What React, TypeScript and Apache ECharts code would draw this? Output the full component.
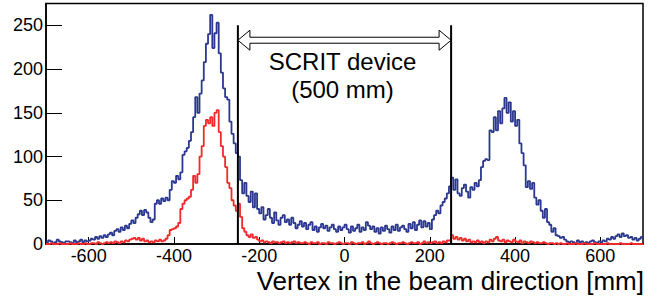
import React, { useEffect, useRef } from "react";
import * as echarts from "echarts";

// ---- data ----
const X_MIN = -700;
const X_MAX = 700;
const BIN_WIDTH = 5;
const Y_MIN = 0;
const Y_MAX = 275;
const xTickValues = [-600, -400, -200, 0, 200, 400, 600];
const yTickValues = [0, 50, 100, 150, 200, 250];

// counts per 5 mm bin, from -700 mm to +700 mm (280 bins)
const blueCounts = [
  2, 4, 3, 1, 2, 5, 3, 2, 1, 3,
  3, 2, 1, 4, 2, 3, 5, 2, 4, 3,
  4, 6, 5, 8, 6, 9, 7, 10, 8, 11,
  13, 10, 15, 17, 14, 19, 16, 21, 18, 23,
  27, 24, 30, 34, 38, 33, 39, 36, 30, 25,
  28, 46, 50, 46, 52, 49, 53, 50, 62, 72,
  70, 78, 74, 82, 102, 106, 110, 118, 128, 145,
  168, 150, 172, 187, 208, 229, 240, 262, 224, 241,
  253, 218, 196, 178, 168, 165, 140, 126, 115, 104,
  100, 73, 58, 70, 55, 48, 60, 42, 58, 40,
  35, 42, 28, 33, 40, 30, 24, 36, 27, 22,
  30, 33, 25, 28, 22, 30, 24, 18, 22, 26,
  20, 24, 17, 22, 25, 16, 20, 14, 19, 23,
  18, 21, 15, 19, 22, 17, 14, 20, 16, 19,
  22, 17, 13, 20, 15, 18, 22, 14, 19, 16,
  25, 21, 17, 20, 14, 18, 12, 19, 15, 21,
  17, 13, 20, 16, 22, 15, 19, 21, 17, 14,
  23, 18, 25, 16, 22, 27, 19, 26, 20, 24,
  17, 28, 33, 38, 35, 44, 48, 52, 58, 66,
  76, 62, 74, 58, 55, 64, 68, 60, 53, 65,
  62, 70, 66, 73, 88, 95, 97, 96, 130, 128,
  145, 130, 152, 138, 155, 167, 150, 162, 140, 152,
  135, 142, 115, 104, 90, 65, 72, 63, 70, 53,
  45, 50, 38, 30, 40, 25, 22, 14, 18, 10,
  9, 7, 8, 5, 3, 2, 3, 2, 1, 4,
  2, 3, 1, 2, 1, 3, 4, 2, 1, 3,
  2, 4, 3, 6, 5, 8, 6, 9, 11, 8,
  12, 9, 10, 7, 8, 5, 7, 4, 6, 8,
];

const redCounts = [
  0, 0, 1, 0, 0, 0, 1, 0, 0, 0,
  0, 1, 0, 0, 0, 1, 0, 0, 1, 0,
  0, 1, 1, 0, 2, 1, 0, 1, 2, 1,
  2, 1, 3, 2, 1, 3, 2, 4, 3, 5,
  6, 7, 5, 7, 4, 6, 3, 4, 2, 3,
  2, 4, 3, 5, 3, 4, 6, 10, 16, 17,
  18, 20, 24, 40, 46, 50, 52, 54, 62, 78,
  70, 80, 100, 112, 135, 142, 138, 145, 135, 150,
  153, 128, 112, 100, 88, 70, 64, 50, 44, 38,
  46, 31, 18, 14, 10, 8, 11, 7, 8, 5,
  3, 4, 2, 3, 2, 1, 3, 2, 2, 1,
  2, 3, 1, 2, 1, 2, 3, 1, 2, 1,
  1, 2, 1, 0, 2, 1, 1, 2, 0, 1,
  1, 0, 2, 1, 1, 0, 1, 2, 1, 0,
  1, 1, 0, 2, 1, 0, 1, 1, 2, 0,
  1, 3, 1, 0, 1, 2, 1, 0, 1, 1,
  0, 1, 2, 1, 0, 1, 1, 2, 1, 0,
  1, 2, 1, 1, 2, 0, 1, 3, 1, 2,
  1, 2, 3, 1, 2, 1, 3, 2, 4, 4,
  10, 6, 8, 5, 7, 4, 6, 3, 5, 2,
  3, 2, 4, 2, 3, 1, 3, 2, 5, 3,
  6, 8, 4, 3, 5, 2, 4, 3, 2, 5,
  3, 2, 4, 1, 3, 2, 1, 3, 2, 1,
  2, 1, 1, 2, 1, 0, 1, 1, 0, 1,
  0, 1, 0, 0, 1, 0, 0, 0, 1, 0,
  0, 0, 1, 0, 0, 0, 0, 1, 0, 0,
  0, 0, 0, 1, 0, 0, 0, 0, 0, 1,
  0, 0, 0, 0, 1, 0, 0, 0, 0, 0,
];

const deviceEdges = [-250, 250];
const deviceLineTop = 250;
const arrowLevel = 233;
const deviceLabel = "SCRIT device\n(500 mm)";
const xAxisTitle = "Vertex in the beam direction [mm]";

// ---- styles ----
const FONT = "'Liberation Sans', Arial, Helvetica, sans-serif";
const BLUE = "#2b388f";
const RED = "#f02a2a";

function toSteps(counts: number[]): number[][] {
  const pts = counts.map((v, i) => [X_MIN + BIN_WIDTH * i, v]);
  pts.push([X_MAX, counts[counts.length - 1]]);
  return pts;
}

export default function App() {
  const ref = useRef<HTMLDivElement>(null);

  useEffect(() => {
    if (!ref.current) return;
    const chart = echarts.init(ref.current, undefined, { renderer: "svg" });

    const histSeries = (name: string, counts: number[], color: string, z: number) => ({
      name,
      type: "line",
      step: "end",
      data: toSteps(counts),
      showSymbol: false,
      symbol: "none",
      lineStyle: { color, width: 1.8 },
      z,
      silent: true,
    });

    const edgeSeries = deviceEdges.map((x) => ({
      type: "line",
      data: [
        [x, 0],
        [x, deviceLineTop],
      ],
      showSymbol: false,
      symbol: "none",
      lineStyle: { color: "#000", width: 2 },
      z: 10,
      silent: true,
    }));

    chart.setOption({
      animation: false,
      grid: {
        left: 46,
        right: 21,
        top: 3.5,
        bottom: 53,
        show: true,
        borderColor: "#000",
        borderWidth: 1.5,
        backgroundColor: "transparent",
      },
      xAxis: {
        type: "value",
        min: X_MIN,
        max: X_MAX,
        axisLine: { show: true, onZero: false, lineStyle: { color: "#000", width: 1.5 } },
        axisTick: {
          show: true,
          inside: true,
          length: 7,
          customValues: xTickValues,
          lineStyle: { color: "#000", width: 1 },
        },
        axisLabel: {
          show: true,
          customValues: xTickValues,
          fontSize: 18,
          lineHeight: 18,
          fontFamily: FONT,
          color: "#000",
          margin: 3,
        },
        splitLine: { show: false },
      },
      yAxis: {
        type: "value",
        min: Y_MIN,
        max: Y_MAX,
        axisLine: { show: true, onZero: false, lineStyle: { color: "#000", width: 1.5 } },
        axisTick: {
          show: true,
          inside: true,
          length: 16,
          customValues: yTickValues,
          lineStyle: { color: "#000", width: 1 },
        },
        axisLabel: {
          show: true,
          customValues: yTickValues,
          fontSize: 18,
          lineHeight: 18,
          fontFamily: FONT,
          color: "#000",
          margin: 3,
        },
        splitLine: { show: false },
      },
      series: [
        histSeries("blue", blueCounts, BLUE, 2),
        histSeries("red", redCounts, RED, 3),
        ...edgeSeries,
      ],
    });

    const px = (x: number, y: number) =>
      chart.convertToPixel({ gridIndex: 0 }, [x, y]) as number[];

    const [lx, ay] = px(deviceEdges[0], arrowLevel);
    const [rx] = px(deviceEdges[1], arrowLevel);
    const headLen = 12;
    const headHalf = 10;
    const shaftHalf = 3;
    const arrowPoints = [
      [lx, ay],
      [lx + headLen, ay - headHalf],
      [lx + headLen, ay - shaftHalf],
      [rx - headLen, ay - shaftHalf],
      [rx - headLen, ay - headHalf],
      [rx, ay],
      [rx - headLen, ay + headHalf],
      [rx - headLen, ay + shaftHalf],
      [lx + headLen, ay + shaftHalf],
      [lx + headLen, ay + headHalf],
    ];
    const [cx] = px(0, 0);
    const [gridRight, gridBottom] = px(X_MAX, 0);

    chart.setOption({
      graphic: [
        {
          type: "polygon",
          shape: { points: arrowPoints },
          style: { fill: "#fff", stroke: "#000", lineWidth: 1 },
          z: 20,
        },
        {
          type: "text",
          x: cx - 2,
          y: ay + 35,
          style: {
            text: deviceLabel,
            fontSize: 24,
            lineHeight: 28,
            fontFamily: FONT,
            fill: "#000",
            align: "center",
            verticalAlign: "middle",
          },
          z: 20,
        },
        {
          type: "text",
          x: gridRight + 1,
          y: gridBottom + 37,
          style: {
            text: xAxisTitle,
            fontSize: 26,
            lineHeight: 26,
            fontFamily: FONT,
            fill: "#000",
            align: "right",
            verticalAlign: "middle",
          },
          z: 20,
        },
      ],
    });

    return () => {
      chart.dispose();
    };
  }, []);

  return (
    <div
      ref={ref}
      style={{ position: "fixed", left: 0, top: 0, width: 664, height: 297, background: "#fff" }}
    />
  );
}
